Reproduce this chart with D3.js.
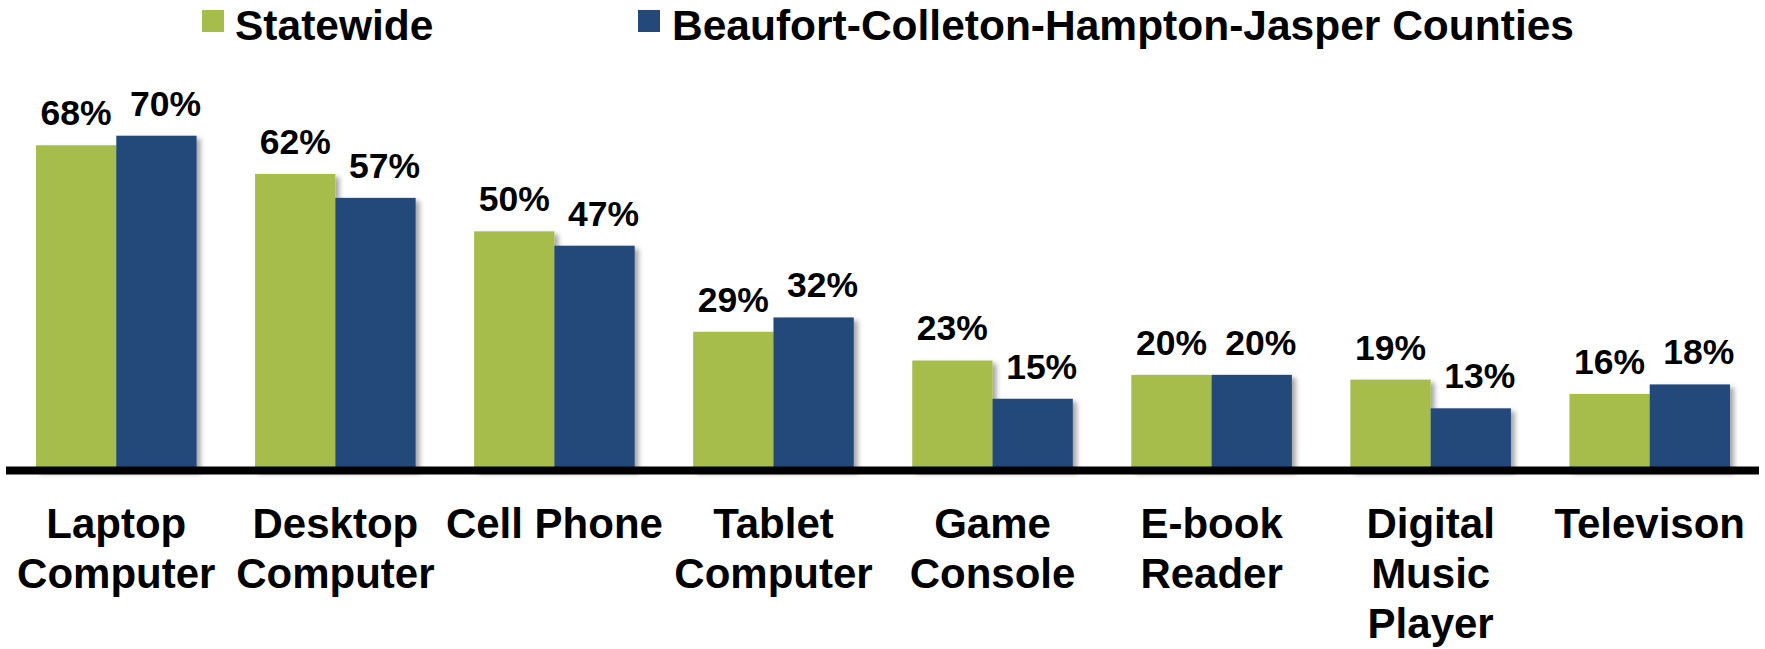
<!DOCTYPE html>
<html>
<head>
<meta charset="utf-8">
<script src="https://cdnjs.cloudflare.com/ajax/libs/d3/7.8.5/d3.min.js"></script>
<style>
  body { margin: 0; background: #fff; }
  text { font-family: "Liberation Sans", Arial, sans-serif; font-weight: bold; fill: #000; }
</style>
</head>
<body>
<div id="chart"></div>
<script>
// data
var categories = ["Laptop Computer", "Desktop Computer", "Cell Phone", "Tablet Computer",
  "Game Console", "E-book Reader", "Digital Music Player", "Televison"];
var seriesNames = ["Statewide", "Beaufort-Colleton-Hampton-Jasper Counties"];
var statewide = [68, 62, 50, 29, 23, 20, 19, 16];
var beaufort = [70, 57, 47, 32, 15, 20, 13, 18];
var seriesColors = ["#a6bd4c", "#24487a"];

var width = 1765, height = 649;

var svg = d3.select("#chart")
  .append("svg")
  .attr("width", width)
  .attr("height", height);

// soft shadow to the right of every bar
var defs = svg.append("defs");
defs.append("filter")
  .attr("id", "barShadow")
  .attr("x", "-10%").attr("y", "-10%")
  .attr("width", "130%").attr("height", "120%")
  .append("feDropShadow")
  .attr("dx", 4)
  .attr("dy", 3)
  .attr("stdDeviation", 2.5)
  .attr("flood-color", "#000")
  .attr("flood-opacity", 0.35);

// scales
var x = d3.scaleBand()
  .domain(categories)
  .range([36, 1730])
  .paddingInner(0.267)
  .paddingOuter(0);

var xSub = d3.scaleBand()
  .domain([0, 1])
  .range([0, x.bandwidth()]);

var y = d3.scaleLinear()
  .domain([0, 70])
  .range([470.5, 135.7]);

var rows = categories.map(function (c, i) {
  return { cat: c, vals: [statewide[i], beaufort[i]] };
});

// bars
var groups = svg.append("g")
  .selectAll("g")
  .data(rows)
  .enter()
  .append("g")
  .attr("transform", function (d) { return "translate(" + x(d.cat) + ",0)"; });

groups.selectAll("rect")
  .data(function (d) { return d.vals; })
  .enter()
  .append("rect")
  .attr("x", function (d, i) { return xSub(i); })
  .attr("y", function (d) { return y(d); })
  .attr("width", xSub.bandwidth())
  .attr("height", function (d) { return y(0) - y(d); })
  .attr("fill", function (d, i) { return seriesColors[i]; })
  .attr("filter", "url(#barShadow)");

// value labels
groups.selectAll("text.value")
  .data(function (d) { return d.vals; })
  .enter()
  .append("text")
  .attr("class", "value")
  .attr("x", function (d, i) { return xSub(i) + xSub.bandwidth() / 2 + (i === 1 ? 9 : 0); })
  .attr("y", function (d) { return y(d) - 20; })
  .attr("text-anchor", "middle")
  .style("font-size", "35.5px")
  .text(function (d) { return d + "%"; });

// x axis line
svg.append("g")
  .attr("transform", "translate(0," + y(0) + ")")
  .call(d3.axisBottom(x).tickSize(0).tickFormat(""))
  .call(function (g) {
    g.select(".domain")
      .attr("d", "M6,0H1759")
      .attr("stroke", "#000")
      .attr("stroke-width", 8);
  });

// category labels, wrapped to the band step
var catLabels = svg.append("g")
  .selectAll("text")
  .data(categories)
  .enter()
  .append("text")
  .attr("x", function (d) { return x(d) + x.bandwidth() / 2; })
  .attr("y", 538)
  .attr("text-anchor", "middle")
  .style("font-size", "42px");

catLabels.each(function (d) {
  var el = d3.select(this);
  var words = d.split(" ");
  var line = [];
  var tspan = el.append("tspan").attr("x", el.attr("x")).attr("dy", 0);
  words.forEach(function (w) {
    line.push(w);
    tspan.text(line.join(" "));
    if (tspan.node().getComputedTextLength() > x.step() + 4 && line.length > 1) {
      line.pop();
      tspan.text(line.join(" "));
      line = [w];
      tspan = el.append("tspan").attr("x", el.attr("x")).attr("dy", 50).text(w);
    }
  });
});

// legend
var legendX = [202, 638];
var legend = svg.append("g")
  .selectAll("g")
  .data(seriesNames)
  .enter()
  .append("g")
  .attr("transform", function (d, i) { return "translate(" + legendX[i] + ",10)"; });

legend.append("rect")
  .attr("width", 22)
  .attr("height", 22)
  .attr("fill", function (d, i) { return seriesColors[i]; });

legend.append("text")
  .attr("x", function (d, i) { return i === 0 ? 33 : 34; })
  .attr("y", 30)
  .style("font-size", "42.5px")
  .text(function (d) { return d; });
</script>
</body>
</html>
